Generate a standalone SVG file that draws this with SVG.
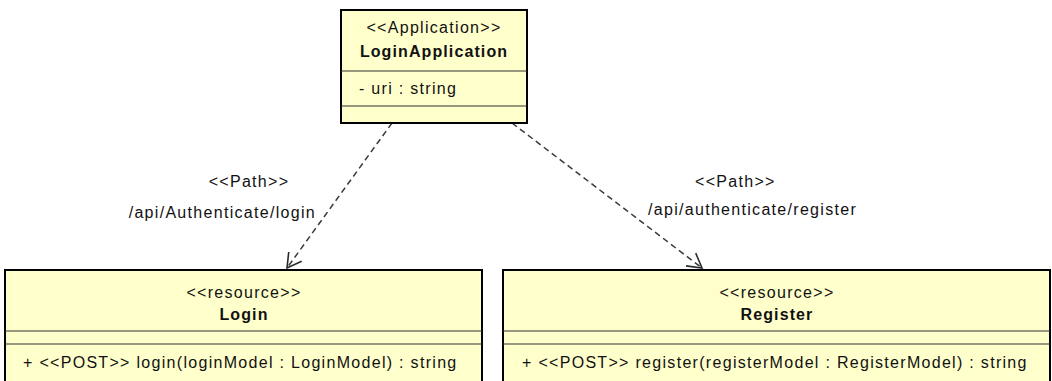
<svg xmlns="http://www.w3.org/2000/svg" width="1052" height="381" viewBox="0 0 1052 381">
  <style>
    text { font-family: "Liberation Sans", Arial, sans-serif; font-size: 16px; fill: #111; letter-spacing: 1.3px; }
    .name { font-weight: bold; letter-spacing: 1.1px; }
    .mid { text-anchor: middle; }
    .box { fill: #FFFFCC; stroke: #000; stroke-width: 2; }
    .sep { stroke: #333; stroke-width: 1.2; fill: none; }
    .dep { stroke: #3a3a3a; stroke-width: 1.5; stroke-dasharray: 6 4; fill: none; }
  </style>
  <defs>
    <marker id="open" markerUnits="userSpaceOnUse" markerWidth="40" markerHeight="40" viewBox="-20 -20 40 40" refX="0" refY="0" orient="auto" overflow="visible">
      <path d="M -14 -8 L 0 0 L -14 8" fill="none" stroke="#2a2a2a" stroke-width="1.6" stroke-dasharray="none"/>
    </marker>
  </defs>

  <!-- connectors: dependencies with <<Path>> stereotype -->
  <g id="connectors">
    <path class="dep" d="M 392 123 L 287 268" marker-end="url(#open)"/>
    <path class="dep" d="M 512 123 L 702 268" marker-end="url(#open)"/>
    <text class="mid" x="249" y="187">&lt;&lt;Path&gt;&gt;</text>
    <text x="316" y="218" text-anchor="end">/api/Authenticate/login</text>
    <text x="695" y="187">&lt;&lt;Path&gt;&gt;</text>
    <text x="648" y="215">/api/authenticate/register</text>
  </g>

  <!-- application class -->
  <g id="LoginApplication">
    <rect class="box" x="341" y="10" width="186" height="113"/>
    <line class="sep" x1="341" y1="71" x2="527" y2="71"/>
    <line class="sep" x1="341" y1="106" x2="527" y2="106"/>
    <text class="mid" x="434" y="33">&lt;&lt;Application&gt;&gt;</text>
    <text class="mid name" x="434" y="57">LoginApplication</text>
    <text x="359" y="94">- uri : string</text>
  </g>

  <!-- resource classes -->
  <g id="Login">
    <rect class="box" x="5" y="270" width="477" height="125"/>
    <line class="sep" x1="5" y1="331" x2="482" y2="331"/>
    <line class="sep" x1="5" y1="344" x2="482" y2="344"/>
    <text class="mid" x="244" y="298">&lt;&lt;resource&gt;&gt;</text>
    <text class="mid name" x="244" y="320">Login</text>
    <text x="23" y="368">+ &lt;&lt;POST&gt;&gt; login(loginModel : LoginModel) : string</text>
  </g>

  <g id="Register">
    <rect class="box" x="503" y="270" width="547" height="125"/>
    <line class="sep" x1="503" y1="331" x2="1050" y2="331"/>
    <line class="sep" x1="503" y1="344" x2="1050" y2="344"/>
    <text class="mid" x="777" y="298">&lt;&lt;resource&gt;&gt;</text>
    <text class="mid name" x="777" y="320">Register</text>
    <text x="522" y="368">+ &lt;&lt;POST&gt;&gt; register(registerModel : RegisterModel) : string</text>
  </g>
</svg>
